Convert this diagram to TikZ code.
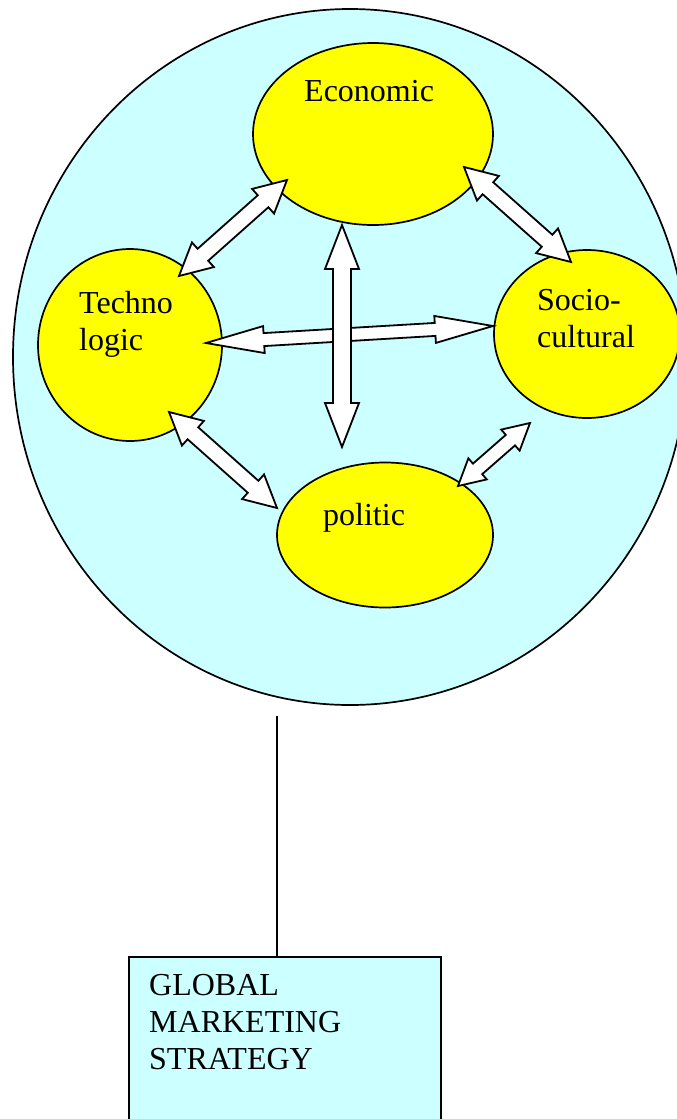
\documentclass[tikz,border=0pt]{standalone}
\usepackage{fontspec}
\setmainfont{Liberation Serif}
\usetikzlibrary{calc,shapes.geometric}
\definecolor{lcyan}{HTML}{CCFFFF}
\definecolor{yel}{HTML}{FFFF00}
\tikzset{
  field/.style={ellipse,draw=black,fill=yel,line width=1.7pt,inner sep=0pt},
  world/.style={ellipse,draw=black,fill=lcyan,line width=1.7pt,inner sep=0pt},
  lbl/.style={anchor=base west,inner sep=0pt,font=\fontsize{32}{37}\selectfont,align=left},
  arr/.style={draw=black,fill=white,line width=1.8pt,line join=miter},
  conn/.style={draw=black,line width=1.6pt}
}
\newcommand\dblarr[5]{%
 \draw[arr] (#1) -- ($(#1)!#5!(#2)!#4!90:(#2)$) -- ($(#1)!#5!(#2)!#3!90:(#2)$)
  -- ($(#2)!#5!(#1)!#3!-90:(#1)$) -- ($(#2)!#5!(#1)!#4!-90:(#1)$) -- (#2)
  -- ($(#2)!#5!(#1)!#4!90:(#1)$) -- ($(#2)!#5!(#1)!#3!90:(#1)$)
  -- ($(#1)!#5!(#2)!#3!-90:(#2)$) -- ($(#1)!#5!(#2)!#4!-90:(#2)$) -- cycle;}
\begin{document}
\begin{tikzpicture}[x=1pt,y=-1pt]
\useasboundingbox (0,0) rectangle (677,1119);
\clip (0,0) rectangle (677,1119);
% big circle
\node[world,minimum width=674pt,minimum height=696pt] (world) at (350,357) {};
% fields
\node[field,minimum width=240pt,minimum height=182pt] (econ) at (373,134) {};
\node[field,minimum width=184pt,minimum height=192pt] (tech) at (130,345) {};
\node[field,minimum width=186pt,minimum height=168pt] (soc) at (587,334) {};
\node[field,minimum width=216pt,minimum height=145pt] (pol) at (385,535) {};
% labels (anchor = baseline of last line)
\node[lbl] (econT) at (304,101) {Economic};
\node[lbl] (techT) at (79,350) {Techno\\logic};
\node[lbl] (socT) at (537,347) {Socio-\\cultural};
\node[lbl] (polT) at (323,525) {politic};
% arrow tips
\coordinate (a1) at (287,180); \coordinate (b1) at (179,276);
\coordinate (a2) at (342,225); \coordinate (b2) at (342,447);
\coordinate (a3) at (206,343); \coordinate (b3) at (493,326);
\coordinate (a4) at (169,412); \coordinate (b4) at (277,508);
\coordinate (a5) at (458,486); \coordinate (b5) at (530,423);
\coordinate (a6) at (464,167); \coordinate (b6) at (571,262);
\dblarr{a3}{b3}{6.5pt}{13.5pt}{58pt}
\dblarr{a2}{b2}{9pt}{17pt}{44pt}
\dblarr{a1}{b1}{8pt}{16.5pt}{32pt}
\dblarr{a4}{b4}{8pt}{16.5pt}{32pt}
\dblarr{a6}{b6}{8pt}{16.5pt}{32pt}
\dblarr{a5}{b5}{7pt}{14pt}{26pt}
% strategy box
\node[draw=black,fill=lcyan,line width=1.6pt,anchor=north west,minimum width=312pt,minimum height=200pt,inner sep=0pt] (box) at (128,956) {};
\node[lbl] (boxT) at (149,1069) {GLOBAL\\MARKETING\\STRATEGY};
\coordinate (top) at (277,716);
\draw[conn] (top) -- (top |- box.north);
\end{tikzpicture}
\end{document}
